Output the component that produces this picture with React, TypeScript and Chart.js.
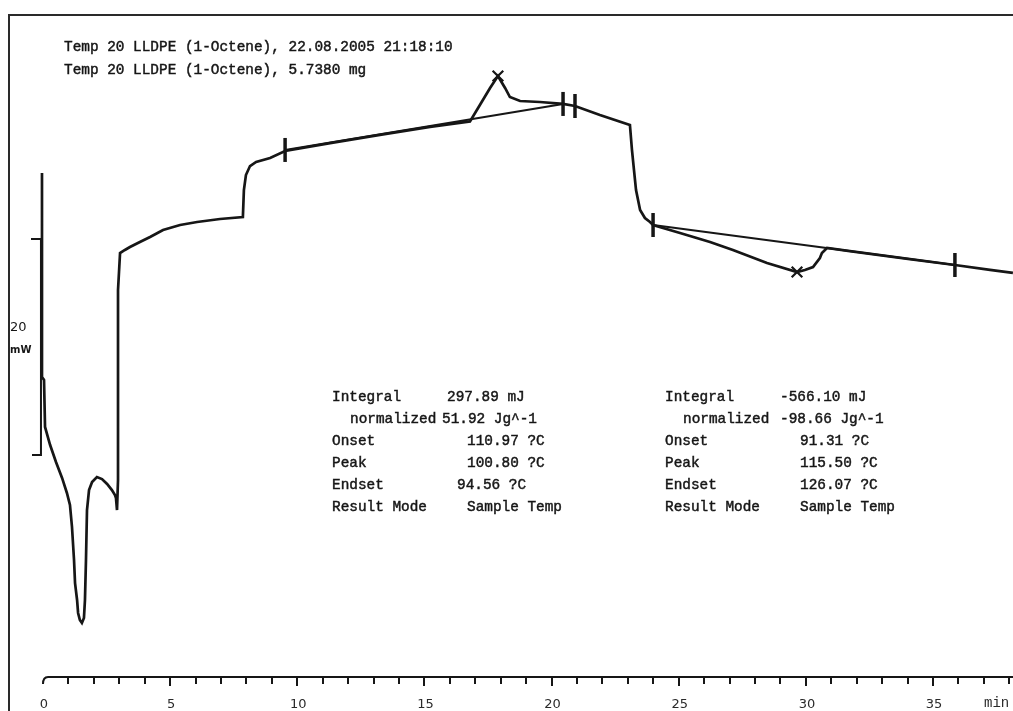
import React, { useEffect, useRef } from "react";
import { Chart, registerables } from "chart.js";

Chart.register(...registerables);

// DSC heat-flow curve (time in min, heat flow in mW, arbitrary offset)
const curveTime = [
  -0.04, -0.04, 0.04, 0.08, 0.28, 0.51, 0.75, 0.94, 1.06, 1.14, 1.22, 1.26, 1.34, 1.38, 1.45, 1.53,
  1.61, 1.65, 1.69, 1.73, 1.81, 1.93, 2.12, 2.32, 2.52, 2.71, 2.83, 2.87, 2.91, 2.95, 2.95, 3.03,
  3.22, 3.42, 3.81, 4.21, 4.72, 5.39, 6.06, 6.96, 7.86, 7.9, 7.98, 8.14, 8.38, 8.93, 9.52,
  11.29, 13.25, 15.22, 16.79, 17.18, 17.58, 17.89, 18.17, 18.36, 18.76, 19.54, 20.45, 20.92,
  21.9, 23.08, 23.16, 23.24, 23.32, 23.48, 23.67, 23.87, 23.99, 25.05, 26.23, 27.13, 28.47,
  29.65, 29.96, 30.28, 30.55, 30.63, 30.83, 31.73, 32.91, 34.09, 35.86, 37.24, 38.14,
];
const curveMW = [
  46.67, 27.78, 27.5, 23.15, 21.48, 19.91, 18.43, 17.04, 15.93, 13.89, 10.83, 8.7, 7.13, 5.93, 5.28, 5.0,
  5.46, 7.13, 10.83, 15.46, 17.31, 18.06, 18.52, 18.33, 17.87, 17.31, 16.85, 16.57, 15.46, 18.24, 35.83, 39.26,
  39.54, 39.81, 40.28, 40.74, 41.39, 41.85, 42.13, 42.41, 42.59, 45.09, 46.48, 47.31, 47.69, 48.06, 48.7,
  49.44, 50.19, 50.93, 51.44, 52.96, 54.54, 55.65, 54.54, 53.7, 53.33, 53.24, 53.06, 52.87,
  52.04, 51.11, 48.8, 46.94, 45.09, 43.24, 42.5, 42.13, 41.85, 41.11, 40.28, 39.54, 38.33,
  37.5, 37.69, 37.96, 38.8, 39.26, 39.72, 39.44, 39.07, 38.7, 38.15, 37.69, 37.41,
];

const baseline1Time = [9.52, 20.45];
const baseline1MW = [48.8, 53.06];
const baseline2Time = [23.99, 35.86];
const baseline2MW = [41.85, 38.15];

const limitTime = [9.52, 20.45, 20.92, 23.99, 35.86];
const limitMW = [48.8, 53.06, 52.87, 41.85, 38.15];

const peakTime = [17.89, 29.65];
const peakMW = [55.65, 37.5];

const xMinorTicks = Array.from({ length: 39 }, (_, i) => i);
const xLabelValues = [0, 5, 10, 15, 20, 25, 30, 35];
const xLabels = ["0", "5", "10", "15", "20", "25", "30", "35"];
const xUnit = "min";

const scaleBarTime = -0.08;
const scaleBarMW = [20.56, 40.56];
const scaleBarLabel = ["20", "mW"];

const headerLines = [
  "Temp 20 LLDPE (1-Octene), 22.08.2005 21:18:10",
  "Temp 20 LLDPE (1-Octene), 5.7380 mg",
];

const resultLabels = ["Integral", "normalized", "Onset", "Peak", "Endset", "Result Mode"];
const resultLeft = ["297.89 mJ", "51.92 Jg^-1", "110.97 ?C", "100.80 ?C", "94.56 ?C", "Sample Temp"];
const resultRight = ["-566.10 mJ", "-98.66 Jg^-1", "91.31 ?C", "115.50 ?C", "126.07 ?C", "Sample Temp"];

const X_MIN = -1.691;
const X_MAX = 38.144;
const Y_MIN = -3.148;
const Y_MAX = 62.685;

const INK = "#161616";
const MONO = "'Liberation Mono', 'DejaVu Sans Mono', monospace";

const toPts = (xs: number[], ys: number[]) => xs.map((x, i) => ({ x, y: ys[i] }));

const heavyText = (ctx: CanvasRenderingContext2D, s: string, x: number, y: number) => {
  ctx.fillText(s, x, y);
  ctx.strokeText(s, x, y);
};

const decorPlugin = {
  id: "decor",
  afterDraw(chart: any) {
    const ctx = chart.ctx as CanvasRenderingContext2D;
    const xs = chart.scales.x;
    const ys = chart.scales.y;
    ctx.save();
    ctx.strokeStyle = "#2a2a2a";
    ctx.lineCap = "butt";

    // frame
    ctx.lineWidth = 2;
    ctx.beginPath();
    ctx.moveTo(9, 711);
    ctx.lineTo(9, 15);
    ctx.lineTo(1013, 15);
    ctx.stroke();

    // time axis
    const y0 = ys.getPixelForValue(0);
    const x0 = xs.getPixelForValue(0);
    ctx.strokeStyle = INK;
    ctx.lineWidth = 2;
    ctx.beginPath();
    ctx.moveTo(x0, y0 + 7);
    ctx.quadraticCurveTo(x0, y0, x0 + 5, y0);
    ctx.lineTo(xs.right, y0);
    ctx.stroke();
    xMinorTicks.forEach((v) => {
      if (v === 0) return;
      const px = Math.round(xs.getPixelForValue(v));
      const len = v % 5 === 0 ? 9 : 7;
      ctx.beginPath();
      ctx.moveTo(px, y0);
      ctx.lineTo(px, y0 + len);
      ctx.stroke();
    });
    ctx.fillStyle = "#2a2a2a";
    ctx.font = "13px 'DejaVu Sans', sans-serif";
    ctx.textAlign = "center";
    ctx.textBaseline = "alphabetic";
    xLabelValues.forEach((v, i) => {
      ctx.fillText(xLabels[i], xs.getPixelForValue(v) + 1, 708);
    });
    ctx.font = "14px " + MONO;
    ctx.textAlign = "left";
    ctx.fillText(xUnit, 984, 707);

    // scale bar
    const sx = xs.getPixelForValue(scaleBarTime);
    const sTop = ys.getPixelForValue(scaleBarMW[1]);
    const sBot = ys.getPixelForValue(scaleBarMW[0]);
    ctx.strokeStyle = INK;
    ctx.lineWidth = 2;
    ctx.beginPath();
    ctx.moveTo(31, sTop);
    ctx.lineTo(sx, sTop);
    ctx.lineTo(sx, sBot);
    ctx.lineTo(32, sBot);
    ctx.stroke();
    ctx.fillStyle = INK;
    ctx.font = "13px 'DejaVu Sans', sans-serif";
    ctx.fillText(scaleBarLabel[0], 10, 331);
    ctx.font = "bold 10px 'DejaVu Sans', sans-serif";
    ctx.fillText(scaleBarLabel[1], 10, 353);

    // header
    ctx.font = "14.4px " + MONO;
    ctx.fillStyle = INK;
    ctx.strokeStyle = INK;
    ctx.lineWidth = 0.45;
    heavyText(ctx, headerLines[0], 64, 51);
    heavyText(ctx, headerLines[1], 64, 74);

    // result blocks
    const rows = [401, 423, 445, 467, 489, 511];
    const leftValX = [447, 442, 467, 467, 457, 467];
    const rightValX = [780, 780, 800, 800, 800, 800];
    rows.forEach((ry, i) => {
      const indent = i === 1 ? 18 : 0;
      heavyText(ctx, resultLabels[i], 332 + indent, ry);
      heavyText(ctx, resultLeft[i], leftValX[i], ry);
      heavyText(ctx, resultLabels[i], 665 + indent, ry);
      heavyText(ctx, resultRight[i], rightValX[i], ry);
    });
    ctx.restore();
  },
};

export default function App() {
  const ref = useRef<HTMLCanvasElement | null>(null);
  useEffect(() => {
    if (!ref.current) return;
    const chart = new Chart(ref.current, {
      type: "line",
      data: {
        datasets: [
          {
            data: toPts(curveTime, curveMW),
            borderColor: INK,
            borderWidth: 2.7,
            pointRadius: 0,
            tension: 0,
            fill: false,
            clip: false,
          },
          {
            data: toPts(baseline1Time, baseline1MW),
            borderColor: INK,
            borderWidth: 2,
            pointRadius: 0,
            fill: false,
          },
          {
            data: toPts(baseline2Time, baseline2MW),
            borderColor: INK,
            borderWidth: 2,
            pointRadius: 0,
            fill: false,
          },
          {
            data: toPts(limitTime, limitMW),
            showLine: false,
            pointStyle: "line",
            rotation: 90,
            pointRadius: 12,
            pointBorderWidth: 3.5,
            pointBorderColor: INK,
            borderColor: INK,
          },
          {
            data: toPts(peakTime, peakMW),
            showLine: false,
            pointStyle: "crossRot",
            pointRadius: 7.5,
            pointBorderWidth: 2.2,
            pointBorderColor: INK,
            borderColor: INK,
          },
        ],
      },
      options: {
        animation: false,
        responsive: false,
        devicePixelRatio: 1,
        layout: { padding: 0, autoPadding: false },
        plugins: { legend: { display: false }, tooltip: { enabled: false } },
        scales: {
          x: { type: "linear", min: X_MIN, max: X_MAX, display: false },
          y: { type: "linear", min: Y_MIN, max: Y_MAX, display: false },
        },
      },
      plugins: [decorPlugin],
    });
    return () => chart.destroy();
  }, []);
  return (
    <div style={{ position: "absolute", left: 0, top: 0, width: 1013, height: 711, background: "#fff" }}>
      <canvas ref={ref} width={1013} height={711} style={{ display: "block" }} />
    </div>
  );
}
